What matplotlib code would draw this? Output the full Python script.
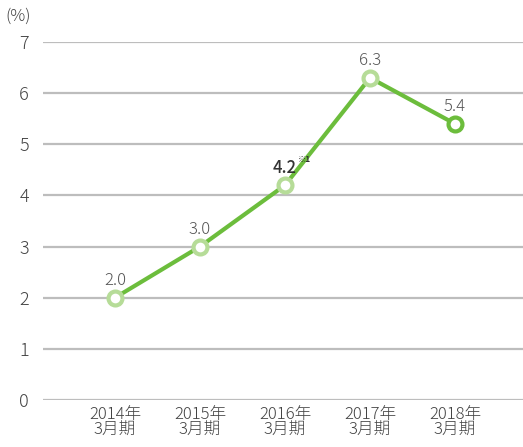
import matplotlib
matplotlib.use("Agg")
import matplotlib.pyplot as plt

plt.rcParams['font.family'] = ['Noto Sans CJK JP', 'DejaVu Sans']
plt.rcParams['font.weight'] = 300

categories = ["2014年\n3月期", "2015年\n3月期", "2016年\n3月期", "2017年\n3月期", "2018年\n3月期"]
values = [2.0, 3.0, 4.2, 6.3, 5.4]
labels = ["2.0", "3.0", "4.2", "6.3", "5.4"]
yticks = [0, 1, 2, 3, 4, 5, 6, 7]

fig = plt.figure(figsize=(5.23, 4.47), dpi=100)
ax = fig.add_axes([43/523, 47/447, 480/523, 358/447])

x = list(range(len(values)))
for t in yticks:
    ax.axhline(t, color='#bdbdbd', lw=1.6, zorder=1)

ax.plot(x, values, color='#6cbd3c', lw=3, zorder=2)
ax.plot(x[:-1], values[:-1], 'o', ms=10, mfc='white', mec='#b6dc98', mew=3, zorder=3)
ax.plot(x[-1:], values[-1:], 'o', ms=10, mfc='white', mec='#6cbd3c', mew=3, zorder=3)

for i, (v, l) in enumerate(zip(values, labels)):
    if i == 2:
        ax.annotate(l, (i, v), xytext=(0, 6), textcoords='offset points',
                    ha='center', va='bottom', fontsize=12, color='#333333', fontweight='medium')
        ax.annotate("※1", (i, v), xytext=(9.5, 15), textcoords='offset points',
                    ha='left', va='bottom', fontsize=6, color='#333333', fontweight='bold')
    else:
        ax.annotate(l, (i, v), xytext=(0, 6), textcoords='offset points',
                    ha='center', va='bottom', fontsize=12, color='#555555')

ax.set_xlim(-0.847, 4.8)
ax.set_ylim(0, 7)
ax.set_yticks(yticks)
ax.set_yticklabels([str(t) for t in yticks])
ax.set_xticks(x)
ax.set_xticklabels(categories, linespacing=0.95)
ax.tick_params(axis='both', length=0, colors='#444444')
ax.tick_params(axis='y', labelsize=13, pad=10)
ax.tick_params(axis='x', labelsize=12, pad=4)
for s in ax.spines.values():
    s.set_visible(False)

fig.text(5/523, 1 - 16/447, "(%)", fontsize=12, color='#444444', va='center', ha='left')

fig.savefig("out.png", dpi=100)
